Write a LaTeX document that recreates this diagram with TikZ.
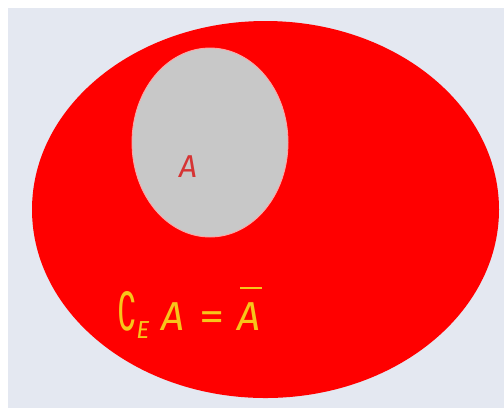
\documentclass[tikz,border=0pt]{standalone}
\usepackage{amssymb}
\usepackage{fontspec}
\usepackage{tikz}
\usetikzlibrary{shapes.geometric, positioning}
\setmainfont{Fira Sans}
\newfontfamily\symfont{DejaVu Sans}
\definecolor{SetRed}{HTML}{FF0000}
\definecolor{SetGray}{HTML}{C8C8C8}
\definecolor{BackBlue}{HTML}{E4E8F1}
\definecolor{LabelRed}{HTML}{D63434}
\definecolor{LabelGold}{HTML}{F7C51A}

\begin{document}
\begin{tikzpicture}[
    setshape/.style={ellipse, inner sep=0pt, outer sep=0pt},
    setlabel/.style={inner sep=0pt, font=\itshape\fontsize{#1}{#1}\selectfont},
    formula/.style={setlabel=#1, LabelGold, anchor=base west}]
    \useasboundingbox (0,0) rectangle (10.08,-8.16);
    \fill[BackBlue] (0.16,-0.16) rectangle (10.08,-8.16);
    % universe E and the set A
    \node[setshape, fill=SetRed, minimum width=9.34cm, minimum height=7.54cm] (E) at (5.31,-4.19) {};
    \node[setshape, fill=SetGray, draw=red!35, line width=0.5pt,
        minimum width=3.12cm, minimum height=3.78cm] (A) at (4.2,-2.85) {};
    \node[setlabel=18, LabelRed] (labelA) at (3.76,-3.34) {A};
    % complement of A in E
    \node[formula=23] (compl) at (2.34,-6.6) {\scalebox{0.78}[1.3]{\symfont\upshape ∁}};
    \node[formula=14] (sub) at (2.72,-6.76) {E};
    \node[formula=23] (ca) at (3.22,-6.6) {A};
    \node[formula=23] (eq) at (3.98,-6.6) {\upshape\scalebox{1.25}[1]{=}};
    \node[formula=23] (bar) at (4.74,-6.6) {A};
    \draw[LabelGold, line width=1.3pt] ([xshift=0.06cm, yshift=0.28cm]bar.north west)
        -- ([xshift=0.02cm, yshift=0.28cm]bar.north east);
\end{tikzpicture}
\end{document}
